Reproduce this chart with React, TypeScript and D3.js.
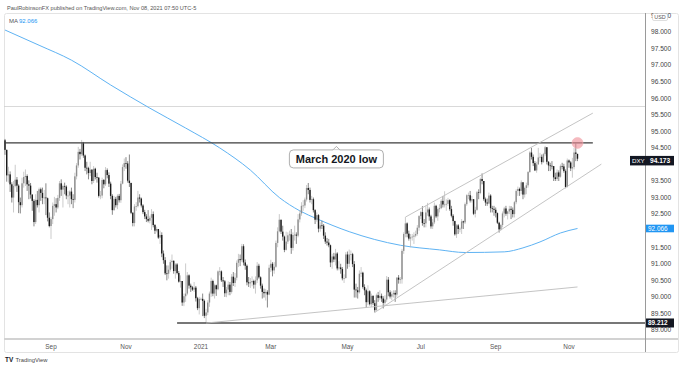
import React from 'react';
import * as d3 from 'd3';

// DXY daily, 24 Jul 2020 -> 8 Nov 2021 (weekday bars)
const firstDay = '2020-07-24';
const firstOpen = 94.73;

const closes = [
  94.44, 93.67, 93.70, 93.40, 93.00, 93.35,
  93.54, 93.36, 92.86, 92.77, 93.43, 93.62, 93.65, 93.40, 93.36, 93.09, 92.90, 92.26, 92.93, 92.77, 93.25, 93.14, 92.99, 93.00, 92.98, 92.39, 92.14,
  92.35, 92.75, 92.80, 92.70, 92.99, 93.43, 93.24, 93.35, 93.33, 93.06, 93.06, 93.18, 92.95, 92.93, 93.64, 93.97, 94.38, 94.31, 94.64, 94.27, 93.90, 93.89,
  93.74, 93.84, 93.50, 93.87, 93.62, 93.60, 93.05, 93.06, 93.53, 93.40, 93.83, 93.68, 93.42, 93.05, 92.62, 92.96, 92.77, 93.05, 92.92, 93.42, 93.92, 94.04,
  94.03, 93.51, 93.44, 92.54, 92.23, 92.73, 92.74, 93.00, 92.97, 92.76, 92.56, 92.43, 92.35, 92.30, 92.39, 92.50, 92.17, 92.00, 92.05, 91.79, 91.87,
  91.31, 91.11, 90.71, 90.70, 90.82, 91.05, 91.09, 90.78, 90.98, 90.72, 90.46, 90.48, 89.83, 90.02, 90.10, 90.65, 90.34, 90.29, 90.22, 90.28, 89.96, 89.66, 89.94,
  89.94, 89.88, 89.43, 89.53, 89.83, 90.10, 90.48, 90.10, 90.35, 90.23, 90.77, 90.77, 90.50, 90.47, 90.11, 90.22, 90.37, 90.15, 90.61, 90.42, 90.58,
  91.03, 91.14, 91.11, 91.53, 91.04, 90.94, 90.44, 90.41, 90.44, 90.48, 90.37, 90.50, 90.94, 90.59, 90.34, 90.15, 90.11, 90.15, 90.07, 90.88,
  91.00, 90.80, 90.91, 91.63, 91.98, 92.33, 91.97, 91.82, 91.42, 91.67, 91.86, 91.89, 91.48, 91.87, 91.88, 91.85, 92.34, 92.52, 92.75, 92.76, 92.94, 93.29, 93.23,
  92.93, 92.95, 92.62, 92.33, 92.47, 92.06, 92.16, 92.15, 91.85, 91.67, 91.64, 91.56, 91.04, 91.22, 91.13, 91.31, 90.86, 90.89, 90.84, 90.56, 90.57, 91.28,
  91.00, 91.28, 91.29, 90.99, 90.22, 90.20, 90.14, 90.70, 90.73, 90.30, 90.20, 89.84, 90.17, 89.78, 90.03, 89.81, 89.60, 90.05, 89.97, 90.03, 89.95,
  89.82, 89.92, 90.52, 90.14, 90.01, 90.08, 90.12, 90.07, 90.58, 90.52, 90.53, 91.39, 91.90, 92.22, 91.91, 91.76, 91.80, 91.82, 91.85, 91.90, 92.09, 92.44,
  92.56, 92.23, 92.22, 92.55, 92.64, 92.43, 92.13, 92.25, 92.75, 92.43, 92.65, 92.68, 92.90, 92.79, 92.79, 92.81, 92.92, 92.65, 92.45, 92.29, 91.89, 92.16,
  92.05, 92.06, 92.28, 92.25, 92.80, 93.07, 93.07, 92.91, 92.95, 92.51, 92.63, 93.16, 93.14, 93.56, 93.50, 92.95, 92.85, 92.82, 93.06, 92.68, 92.66, 92.63,
  92.53, 92.24, 92.04, 92.17, 92.52, 92.67, 92.51, 92.58, 92.66, 92.63, 92.50, 92.86, 93.20, 93.26, 93.20, 93.46, 93.09, 93.29, 93.37, 93.77, 94.36, 94.23,
  94.04, 93.82, 94.00, 94.21, 94.23, 94.07, 94.31, 94.52, 94.08, 93.97, 93.96, 93.95, 93.61, 93.56, 93.76, 93.63, 93.95, 93.94, 93.80, 93.32, 94.12,
  94.06, 93.88, 93.92, 94.36, 94.32, 94.173,
];

const highs = [
  94.77, 94.45, 93.93, 93.79, 93.46, 93.50,
  93.99, 93.62, 93.40, 93.00, 93.60, 93.78, 93.85, 93.70, 93.52, 93.44, 93.10, 92.95, 93.10, 93.20, 93.30, 93.30, 93.30, 93.23, 93.43, 93.00, 92.55,
  92.42, 92.85, 93.02, 92.98, 93.08, 93.50, 93.55, 93.39, 93.45, 93.37, 93.20, 93.22, 93.30, 93.10, 93.75, 94.04, 94.53, 94.47, 94.74, 94.68, 94.30, 94.08,
  93.93, 94.08, 93.86, 93.95, 93.90, 93.75, 93.62, 93.20, 93.60, 93.56, 93.92, 93.88, 93.76, 93.48, 93.10, 93.05, 93.02, 93.10, 93.11, 93.50, 94.00, 94.18,
  94.22, 94.10, 94.30, 93.45, 92.56, 92.80, 92.86, 93.20, 93.10, 93.00, 92.80, 92.63, 92.50, 92.62, 92.45, 92.65, 92.58, 92.20, 92.12, 92.05, 92.00,
  91.95, 91.40, 91.20, 90.95, 90.95, 91.12, 91.28, 91.10, 91.02, 91.02, 90.78, 90.65, 90.48, 90.10, 91.01, 90.75, 90.68, 90.40, 90.33, 90.45, 90.33, 90.00, 90.00,
  89.98, 90.10, 89.92, 89.64, 89.90, 90.16, 90.58, 90.52, 90.40, 90.37, 90.80, 90.90, 90.80, 90.60, 90.51, 90.30, 90.47, 90.45, 90.69, 90.75, 90.72,
  91.10, 91.30, 91.28, 91.60, 91.59, 91.13, 90.98, 90.60, 90.57, 90.62, 90.52, 90.62, 91.05, 91.00, 90.62, 90.40, 90.25, 90.24, 90.20, 90.97,
  91.12, 91.05, 91.05, 91.70, 92.10, 92.50, 92.33, 92.15, 91.85, 91.97, 91.95, 92.00, 92.05, 91.95, 92.15, 91.95, 92.50, 92.62, 92.86, 92.92, 93.00, 93.38, 93.44,
  93.30, 93.05, 93.00, 92.65, 92.55, 92.50, 92.25, 92.30, 92.20, 91.95, 91.78, 91.75, 91.58, 91.30, 91.33, 91.45, 91.35, 91.08, 91.00, 90.90, 90.68, 91.35,
  91.37, 91.43, 91.40, 91.33, 91.08, 90.40, 90.30, 90.80, 90.90, 90.76, 90.38, 90.25, 90.35, 90.20, 90.10, 90.05, 89.90, 90.10, 90.15, 90.20, 90.10,
  90.02, 90.05, 90.63, 90.60, 90.20, 90.17, 90.20, 90.20, 90.60, 90.66, 90.60, 91.45, 91.95, 92.41, 92.25, 92.00, 91.90, 91.90, 91.95, 92.00, 92.17, 92.47,
  92.60, 92.74, 92.35, 92.75, 92.84, 92.70, 92.48, 92.35, 92.85, 92.78, 92.70, 92.80, 92.95, 93.05, 93.19, 92.95, 92.99, 92.95, 92.75, 92.50, 92.30, 92.20,
  92.20, 92.10, 92.35, 92.30, 92.85, 93.10, 93.15, 93.20, 93.05, 92.95, 92.72, 93.20, 93.25, 93.60, 93.73, 93.50, 93.00, 92.97, 93.15, 93.10, 92.75, 92.75,
  92.70, 92.55, 92.27, 92.20, 92.58, 92.72, 92.75, 92.60, 92.75, 92.74, 92.70, 92.90, 93.25, 93.33, 93.30, 93.52, 93.47, 93.33, 93.45, 93.80, 94.40, 94.50,
  94.30, 94.10, 94.08, 94.50, 94.35, 94.30, 94.35, 94.56, 94.52, 94.10, 94.05, 94.10, 93.95, 93.75, 93.85, 93.82, 94.00, 94.05, 94.02, 93.85, 94.18,
  94.15, 94.10, 94.20, 94.50, 94.63, 94.30,
];

const lows = [
  94.29, 93.48, 93.45, 93.17, 92.85, 92.55,
  93.31, 93.17, 92.53, 92.52, 92.70, 93.30, 93.35, 93.20, 92.95, 92.97, 92.60, 92.13, 92.20, 92.70, 92.55, 92.90, 92.80, 92.80, 92.47, 92.28, 92.10,
  91.75, 92.20, 92.45, 92.55, 92.65, 92.90, 93.05, 92.70, 93.10, 92.95, 92.80, 92.70, 92.80, 92.68, 92.85, 93.55, 93.90, 94.15, 94.25, 94.20, 93.80, 93.70,
  93.55, 93.65, 93.40, 93.44, 93.55, 93.45, 93.00, 92.95, 92.98, 93.28, 93.35, 93.58, 93.32, 92.95, 92.48, 92.60, 92.70, 92.65, 92.85, 92.84, 93.40, 93.80,
  93.87, 93.45, 93.32, 92.50, 92.13, 92.13, 92.60, 92.70, 92.85, 92.70, 92.50, 92.35, 92.26, 92.25, 92.22, 92.02, 92.10, 91.90, 91.95, 91.75, 91.60,
  91.20, 91.00, 90.66, 90.50, 90.55, 90.76, 90.85, 90.70, 90.55, 90.68, 90.43, 90.28, 89.73, 89.72, 89.85, 90.05, 90.25, 90.15, 90.18, 90.15, 89.86, 89.60, 89.47,
  89.90, 89.42, 89.36, 89.21, 89.45, 89.70, 90.00, 90.02, 89.95, 90.03, 90.20, 90.65, 90.45, 90.30, 90.00, 89.99, 90.05, 90.05, 90.10, 90.33, 90.30,
  90.50, 90.90, 90.93, 91.05, 90.95, 90.82, 90.35, 90.30, 90.27, 90.32, 90.25, 90.10, 90.42, 90.55, 90.25, 89.95, 89.98, 89.89, 89.68, 90.05,
  90.75, 90.62, 90.70, 90.88, 91.50, 91.95, 91.90, 91.70, 91.35, 91.40, 91.60, 91.70, 91.30, 91.40, 91.70, 91.60, 91.80, 92.25, 92.45, 92.60, 92.68, 92.88, 93.10,
  92.85, 92.80, 92.55, 92.20, 92.27, 91.95, 91.97, 92.05, 91.75, 91.60, 91.55, 91.50, 90.90, 90.85, 91.05, 90.95, 90.80, 90.80, 90.70, 90.50, 90.42, 90.55,
  90.85, 90.90, 91.10, 90.90, 89.98, 89.98, 89.95, 90.10, 90.60, 90.25, 90.05, 89.68, 89.75, 89.74, 89.70, 89.75, 89.53, 89.58, 89.85, 89.90, 89.85,
  89.65, 89.75, 89.85, 90.02, 89.95, 89.90, 89.98, 89.85, 90.00, 90.40, 90.40, 90.40, 91.30, 91.80, 91.80, 91.70, 91.50, 91.70, 91.60, 91.80, 91.85, 92.00,
  92.35, 92.15, 92.10, 92.10, 92.45, 92.30, 92.06, 92.05, 92.20, 92.38, 92.30, 92.55, 92.65, 92.70, 92.70, 92.60, 92.75, 92.60, 92.40, 92.15, 91.85, 91.78,
  91.90, 91.95, 91.90, 92.05, 92.20, 92.75, 92.95, 92.85, 92.85, 92.47, 92.40, 92.60, 92.95, 93.10, 93.40, 92.90, 92.75, 92.75, 92.80, 92.55, 92.55, 92.45,
  92.40, 92.20, 91.94, 92.00, 92.10, 92.40, 92.45, 92.34, 92.50, 92.35, 92.40, 92.40, 92.80, 93.05, 93.05, 93.10, 92.95, 93.00, 93.10, 93.30, 93.75, 94.15,
  93.95, 93.80, 93.75, 94.00, 94.08, 94.00, 94.05, 94.25, 94.00, 93.80, 93.80, 93.85, 93.50, 93.50, 93.50, 93.50, 93.60, 93.85, 93.75, 93.28, 93.30,
  93.90, 93.80, 93.60, 93.85, 94.10, 94.10,
];

// 200-day moving average, read at points along the line
const maDates = [
  '2020-07-24', '2020-08-21', '2020-09-17', '2020-10-20', '2020-11-20', '2020-12-21',
  '2021-01-18', '2021-02-11', '2021-03-08', '2021-03-24', '2021-04-07', '2021-05-04',
  '2021-06-15', '2021-07-16', '2021-08-06', '2021-09-08', '2021-09-23', '2021-10-07',
  '2021-10-25', '2021-11-08',
];
const maValues = [
  98.06, 97.6, 97.15, 96.4, 95.7, 95.1,
  94.5, 93.83, 93.0, 92.6, 92.36, 91.97,
  91.56, 91.42, 91.34, 91.36, 91.48, 91.66,
  91.93, 92.066,
];

const monthLabels = ['Sep', 'Nov', '2021', 'Mar', 'May', 'Jul', 'Sep', 'Nov'];
const monthStarts = ['2020-09-01', '2020-11-01', '2021-01-01', '2021-03-01', '2021-05-01', '2021-07-01', '2021-09-01', '2021-11-01'];

// 92.000 and 94.000 sit under the price badges, as in the reference
const priceTicks = [89, 89.5, 90, 90.5, 91, 91.5, 92.5, 93, 93.5, 94.5, 95, 95.5, 96, 96.5, 97, 97.5, 98, 98.5];

// drawn levels and trendlines
const marchLow = 94.65;
const grayLevel = 95.75;
const janLow = 89.212;
const lastMa = 92.066;
const upperChannel: [string, number][] = [['2021-06-18', 92.41], ['2021-11-19', 95.55]];
const lowerChannel: [string, number][] = [['2021-05-25', 89.53], ['2021-11-26', 94.01]];
const janTrend: [string, number][] = [['2021-01-06', 89.21], ['2021-11-08', 90.30]];

const FONT = '"Liberation Sans", Arial, sans-serif';

const parse = d3.utcParse('%Y-%m-%d');
const weekdays = d3.utcDay
  .range(parse(firstDay)!, parse('2022-01-31')!)
  .filter(d => d.getUTCDay() !== 0 && d.getUTCDay() !== 6);
const barOf = (s: string) => weekdays.findIndex(d => +d >= +parse(s)!);

const App = () => {
  const width = 680;
  const height = 370;
  const plot = { left: 4, right: 645, top: 13, bottom: 339 };

  const x = d3.scaleLinear().domain([0, 336]).range([5, 577.5]);
  const y = d3.scaleLinear().domain([89, 98]).range([330, 32]);
  const fmt = d3.format('.3f');

  const bars = closes.map((c, i) => {
    const o = i === 0 ? firstOpen : closes[i - 1];
    return { i, o, c, h: Math.max(highs[i], o, c), l: Math.min(lows[i], o, c) };
  });

  const maLine = d3.line<number>()
    .x((_, k) => x(barOf(maDates[k])))
    .y(d => y(d))
    .curve(d3.curveMonotoneX);

  const seg = (p: [string, number][]) => ({
    x1: x(barOf(p[0][0])), y1: y(p[0][1]), x2: x(barOf(p[1][0])), y2: y(p[1][1]),
  });

  const last = bars[bars.length - 1];
  const lastX = x(last.i);
  const badgeY = y(last.c) + 2;

  const boxCx = x(barOf('2021-04-22') + 0.5);
  const boxTop = y(marchLow) + 7;
  const boxW = 94;
  const boxH = 18;

  return (
    <div style={{ position: 'absolute', left: 0, top: 0 }}>
      <svg width={width} height={height} style={{ display: 'block', background: '#fff' }} fontFamily={FONT}>
        <defs>
          <clipPath id="plot">
            <rect x={plot.left} y={plot.top} width={plot.right - plot.left} height={plot.bottom - plot.top} />
          </clipPath>
        </defs>

        <text x={7} y={9.5} fontSize={5.6} fill="#555">
          PaulRobinsonFX published on TradingView.com, Nov 08, 2021 07:50 UTC-5
        </text>

        {/* frame */}
        <rect x={plot.left + 0.5} y={plot.top + 0.5} width={674} height={339} fill="none" stroke="#e3e3e3" rx={2} />
        <line x1={plot.left} x2={678} y1={plot.bottom} y2={plot.bottom} stroke="#d2d2d2" strokeWidth={2} />
        <line x1={plot.right + 0.5} x2={plot.right + 0.5} y1={plot.top} y2={352} stroke="#9a9a9a" />

        <g clipPath="url(#plot)">
          <line x1={plot.left} x2={plot.right} y1={y(grayLevel)} y2={y(grayLevel)} stroke="#cfcfcf" strokeWidth={0.8} />

          <path d={maLine(maValues) || ''} fill="none" stroke="#5fb3f3" strokeWidth={1} />

          {bars.map(b => {
            const up = b.c >= b.o;
            const top = y(Math.max(b.o, b.c));
            const bh = Math.max(0.7, Math.abs(y(b.o) - y(b.c)));
            return (
              <g key={b.i}>
                <line x1={x(b.i)} x2={x(b.i)} y1={y(b.h)} y2={y(b.l)} stroke={up ? '#b4b4b4' : '#555'} strokeWidth={0.7} />
                <rect x={x(b.i) - 0.7} y={top} width={1.4} height={bh} fill={up ? '#8e8e8e' : '#1a1a1a'} />
              </g>
            );
          })}

          <line x1={x(0)} x2={x(barOf('2021-11-19'))} y1={y(marchLow)} y2={y(marchLow)} stroke="#3c3c3c" strokeWidth={1.3} />
          <line x1={x(barOf('2020-12-14'))} x2={plot.right} y1={y(janLow)} y2={y(janLow)} stroke="#4a4a4a" strokeWidth={1.3} />
          {[upperChannel, lowerChannel, janTrend].map((p, k) => (
            <line key={k} {...seg(p)} stroke="#bdbdbd" strokeWidth={0.9} />
          ))}

          <circle cx={lastX} cy={y(marchLow)} r={5.5} fill="#ef8a94" fillOpacity={0.6} stroke="#f3b3b9" strokeWidth={0.6} />
        </g>

        {/* March 2020 low callout */}
        <path
          d={`M${boxCx - 4},${boxTop + 0.5} L${boxCx},${boxTop - 3.5} L${boxCx + 4},${boxTop + 0.5}`}
          fill="#fff" stroke="#9a9a9a" strokeWidth={0.8}
        />
        <rect x={boxCx - boxW / 2} y={boxTop} width={boxW} height={boxH} rx={4} fill="#fff" stroke="#9a9a9a" strokeWidth={0.8} />
        <line x1={boxCx - 3.4} x2={boxCx + 3.4} y1={boxTop + 0.4} y2={boxTop + 0.4} stroke="#fff" strokeWidth={1} />
        <text x={boxCx} y={boxTop + 13} textAnchor="middle" fontSize={11} fontWeight="bold" fill="#131722">
          March 2020 low
        </text>

        {/* MA legend */}
        <text x={9} y={23} fontSize={6} fill="#555">MA</text>
        <text x={19} y={23} fontSize={6} fill="#2196f3">{fmt(lastMa)}</text>

        {/* price axis */}
        {priceTicks.map(t => (
          <text key={t} x={651} y={y(t) + 2.3} fontSize={6.6} fill="#444">{fmt(t)}</text>
        ))}
        <rect x={652.5} y={13.5} width={15} height={7} rx={1.5} fill="#fff" stroke="#c8c8c8" strokeWidth={0.6} />
        <text x={660} y={19.2} textAnchor="middle" fontSize={5.4} fill="#555">USD</text>

        <rect x={630} y={badgeY - 4.8} width={44} height={9.5} fill="#131722" />
        <text x={632} y={badgeY + 2.3} fontSize={6.2} fill="#fff">DXY</text>
        <text x={650} y={badgeY + 2.3} fontSize={6.6} fontWeight="bold" fill="#fff">{fmt(last.c)}</text>

        <rect x={646} y={y(lastMa) - 3.8} width={28} height={7.6} fill="#2196f3" />
        <text x={648} y={y(lastMa) + 2.3} fontSize={6.4} fill="#fff">{fmt(lastMa)}</text>

        <rect x={646} y={y(janLow) - 4.5} width={28} height={9} fill="#131722" />
        <text x={648} y={y(janLow) + 2.3} fontSize={6.4} fontWeight="bold" fill="#fff">{fmt(janLow)}</text>

        {/* time axis */}
        {monthLabels.map((m, k) => (
          <text key={k} x={x(barOf(monthStarts[k]))} y={348.5} textAnchor="middle" fontSize={6.4} fill="#555">{m}</text>
        ))}

        {/* footer */}
        <text x={5} y={362} fontSize={6.4} fontWeight="bold" fill="#131722">TV</text>
        <text x={15.5} y={362} fontSize={5.8} fill="#444">TradingView</text>
      </svg>
    </div>
  );
};

export default App;
